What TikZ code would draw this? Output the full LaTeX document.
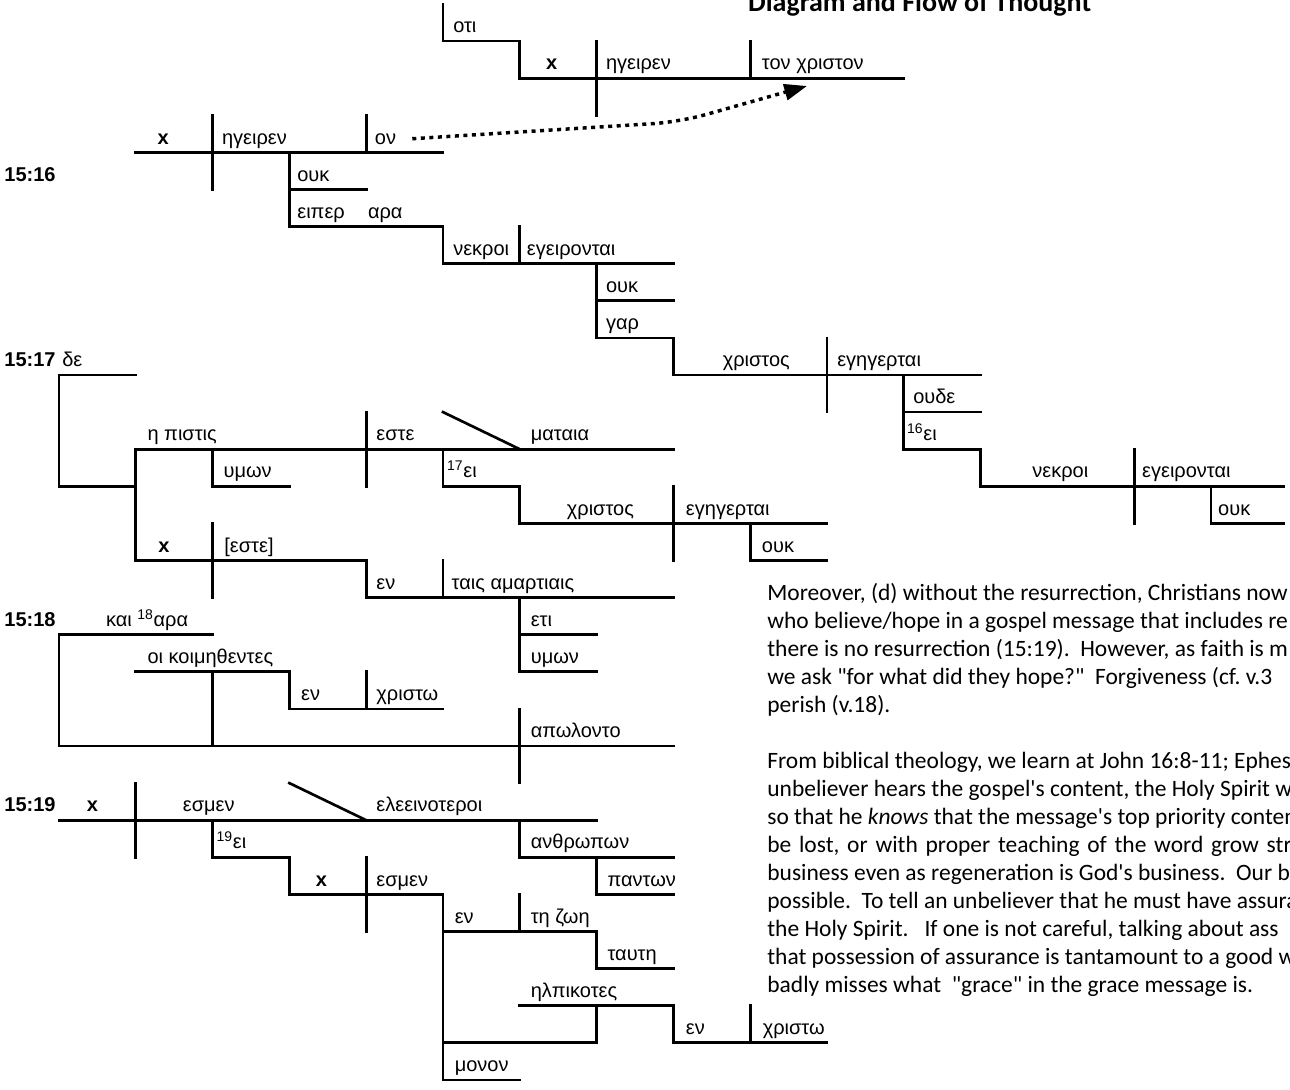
\documentclass[tikz,border=0pt]{standalone}
\usepackage{fontspec}
\newfontfamily\greekfont{Liberation Sans}
\newfontfamily\bodyfont{Carlito}[Ligatures=TeXOff]
\usetikzlibrary{arrows.meta}
\tikzset{>={Triangle[length=17pt,width=12pt]}}
\tikzset{
  word/.style  = {anchor=base west, inner sep=0pt, yshift=6.3pt,
                  font=\greekfont\fontsize{15}{18}\selectfont},
  verse/.style = {word, font=\greekfont\bfseries\fontsize{15}{18}\selectfont},
  xword/.style = {verse},
  rule/.style  = {line width=2pt, line cap=rect},
  flow/.style  = {->, line width=2.6pt, dash pattern=on 3pt off 3.4pt,
                  rounded corners=20pt}
}

\begin{document}
\begin{tikzpicture}[x=57.6pt, y=-27.825pt]
  \useasboundingbox (-0.7682,-0.1078) rectangle (16.0286,29.2453);
  % title
  \node[anchor=base west, inner sep=0pt,
        font=\bodyfont\bfseries\fontsize{21}{25}\selectfont]
       (title) at (8.97,0.2) {Diagram and Flow of Thought};

  % 15:15 (end)
  \draw[rule] (5,0) -- (5,1) -- (6,1) -- (6,2) -- (11,2);
  \draw[rule] (7,1) -- (7,3);
  \draw[rule] (9,1) -- (9,2);
  \node[word]  (oti)      at (5.13,1) {οτι};
  \node[xword] (x1)       at (6.34,2) {x};
  \node[word]  (egeiren1) at (7.12,2) {ηγειρεν};
  \node[word]  (christon) at (9.15,2) {τον χριστον};
  \coordinate (tgt) at (9.74,2.21);

  % 15:16
  \draw[rule] (1,4) -- (5,4);
  \draw[rule] (2,3) -- (2,5);
  \draw[rule] (4,3) -- (4,4);
  \draw[rule] (3,4) -- (3,6) -- (5,6) -- (5,7) -- (8,7);
  \draw[rule] (3,5) -- (4,5);
  \draw[rule] (6,6) -- (6,7);
  \draw[rule] (7,7) -- (7,9) -- (8,9) -- (8,10) -- (12,10);
  \draw[rule] (7,8) -- (8,8);
  \draw[rule] (10,9) -- (10,11);
  \draw[rule] (11,10) -- (11,12) -- (12,12) -- (12,13) -- (15.95,13);
  \draw[rule] (11,11) -- (12,11);
  \draw[rule] (14,12) -- (14,14);
  \draw[rule] (15,13) -- (15,14) -- (15.95,14);
  \node[verse] (v16)         at (-0.714,5) {15:16};
  \node[xword] (x2)          at (1.28,4)   {x};
  \node[word]  (egeiren2)    at (2.12,4)   {ηγειρεν};
  \node[word]  (hon)         at (4.11,4)   {ον};
  \node[word]  (ouk1)        at (3.10,5)   {ουκ};
  \node[word]  (eiper)       at (3.10,6)   {ειπερ};
  \node[word]  (ara1)        at (4.02,6)   {αρα};
  \node[word]  (nekroi1)     at (5.13,7)   {νεκροι};
  \node[word]  (egeirontai1) at (6.09,7)   {εγειρονται};
  \node[word]  (ouk2)        at (7.12,8)   {ουκ};
  \node[word]  (gar)         at (7.12,9)   {γαρ};
  \node[word]  (christos1)   at (8.64,10)  {χριστος};
  \node[word]  (egegertai1)  at (10.13,10) {εγηγερται};
  \node[word]  (oude)        at (11.12,11) {ουδε};
  \node[word]  (ei16)        at (11.04,12) {\textsuperscript{16}ει};
  \node[word]  (nekroi2)     at (12.67,13) {νεκροι};
  \node[word]  (egeirontai2) at (14.10,13) {εγειρονται};
  \node[word]  (ouk3)        at (15.09,14) {ουκ};
  % flow of thought
  \draw[flow] ([xshift=12pt]hon.east) -- (8.08,3.18) -- (tgt);

  % 15:17
  \draw[rule] (1,10) -- (0,10) -- (0,13) -- (1,13);
  \draw[rule] (8,12) -- (1,12) -- (1,15) -- (4,15) -- (4,16) -- (8,16);
  \draw[rule] (2,12) -- (2,13) -- (3,13);
  \draw[rule] (4,11) -- (4,13);
  \draw[rule] (5,11) -- (6,12);
  \draw[rule] (5,12) -- (5,13) -- (6,13) -- (6,14) -- (10,14);
  \draw[rule] (8,13) -- (8,15);
  \draw[rule] (9,14) -- (9,15) -- (10,15);
  \draw[rule] (2,14) -- (2,16);
  \draw[rule] (5,15) -- (5,16);
  \draw[rule] (6,16) -- (6,18) -- (7,18);
  \draw[rule] (6,17) -- (7,17);
  \node[verse] (v17)        at (-0.714,10) {15:17};
  \node[word]  (de)         at (0.04,10)   {δε};
  \node[word]  (pistis)     at (1.15,12)   {η πιστις};
  \node[word]  (humon1)     at (2.14,13)   {υμων};
  \node[word]  (este1)      at (4.13,12)   {εστε};
  \node[word]  (mataia)     at (6.14,12)   {ματαια};
  \node[word]  (ei17)       at (5.05,13)   {\textsuperscript{17}ει};
  \node[word]  (christos2)  at (6.61,14)   {χριστος};
  \node[word]  (egegertai2) at (8.16,14)   {εγηγερται};
  \node[word]  (ouk4)       at (9.15,15)   {ουκ};
  \node[xword] (x3)         at (1.29,15)   {x};
  \node[word]  (este2)      at (2.15,15)   {[εστε]};
  \node[word]  (en1)        at (4.13,16)   {εν};
  \node[word]  (hamartiais) at (5.11,16)   {ταις αμαρτιαις};
  \node[word]  (eti)        at (6.14,17)   {ετι};
  \node[word]  (humon2)     at (6.14,18)   {υμων};

  % 15:18
  \draw[rule] (2,17) -- (0,17) -- (0,20) -- (8,20);
  \draw[rule] (1,18) -- (3,18) -- (3,19) -- (5,19);
  \draw[rule] (2,18) -- (2,20);
  \draw[rule] (4,18) -- (4,19);
  \draw[rule] (6,19) -- (6,21);
  \node[verse] (v18)      at (-0.714,17) {15:18};
  \node[word]  (kai)      at (0.61,17)   {και \textsuperscript{18}αρα};
  \node[word]  (koim)     at (1.15,18)   {οι κοιμηθεντες};
  \node[word]  (en2)      at (3.15,19)   {εν};
  \node[word]  (christo1) at (4.13,19)   {χριστω};
  \node[word]  (apolonto) at (6.14,20)   {απωλοντο};

  % 15:19
  \draw[rule] (0,22) -- (7,22);
  \draw[rule] (1,21) -- (1,23);
  \draw[rule] (3,21) -- (4,22);
  \draw[rule] (2,22) -- (2,23) -- (3,23) -- (3,24) -- (5,24) -- (5,29) -- (6,29);
  \draw[rule] (4,23) -- (4,25);
  \draw[rule] (5,25) -- (7,25) -- (7,26) -- (8,26);
  \draw[rule] (6,24) -- (6,25);
  \draw[rule] (6,22) -- (6,23) -- (8,23);
  \draw[rule] (7,23) -- (7,24) -- (8,24);
  \draw[rule] (6,27) -- (8,27) -- (8,28) -- (10,28);
  \draw[rule] (7,27) -- (7,28) -- (5,28);
  \draw[rule] (9,27) -- (9,28);
  \node[verse] (v19)          at (-0.714,22) {15:19};
  \node[xword] (x4)           at (0.36,22)   {x};
  \node[word]  (esmen1)       at (1.61,22)   {εσμεν};
  \node[word]  (eleeinoteroi) at (4.13,22)   {ελεεινοτεροι};
  \node[word]  (ei19)         at (2.05,23)   {\textsuperscript{19}ει};
  \node[xword] (x5)           at (3.34,24)   {x};
  \node[word]  (esmen2)       at (4.13,24)   {εσμεν};
  \node[word]  (en3)          at (5.15,25)   {εν};
  \node[word]  (zoe)          at (6.14,25)   {τη ζωη};
  \node[word]  (taute)        at (7.14,26)   {ταυτη};
  \node[word]  (anthropon)    at (6.14,23)   {ανθρωπων};
  \node[word]  (panton)       at (7.14,24)   {παντων};
  \node[word]  (elpikotes)    at (6.14,27)   {ηλπικοτες};
  \node[word]  (en4)          at (8.16,28)   {εν};
  \node[word]  (christo2)     at (9.16,28)   {χριστω};
  \node[word]  (monon)        at (5.15,29)   {μονον};

  % notes
  \node[anchor=north west, inner sep=0pt, align=left,
        font=\bodyfont\fontsize{17.6}{21}\selectfont\frenchspacing]
       (notes) at (9.22,15.6) {%
    Moreover, (d) without the resurrection, Christians now\\
    who believe/hope in a gospel message that includes re\\
    there is no resurrection (15:19).\ \ However, as faith is m\\
    we ask "for what did they hope?"\ \ Forgiveness (cf. v.3\\
    perish (v.18).\\[21pt]
    From biblical theology, we learn at John 16:8-11; Ephes\\
    unbeliever hears the gospel's content, the Holy Spirit w\\
    so that he \textit{knows} that the message's top priority conten\\
    {\spaceskip=.33em be lost, or with proper teaching of the word grow str}\\
    business even as regeneration is God's business.\ \ Our b\\
    possible.\ \ To tell an unbeliever that he must have assura\\
    the Holy Spirit.\ \ \ If one is not careful, talking about ass\\
    that possession of assurance is tantamount to a good w\\
    badly misses what\ \ "grace" in the grace message is.};
\end{tikzpicture}
\end{document}
